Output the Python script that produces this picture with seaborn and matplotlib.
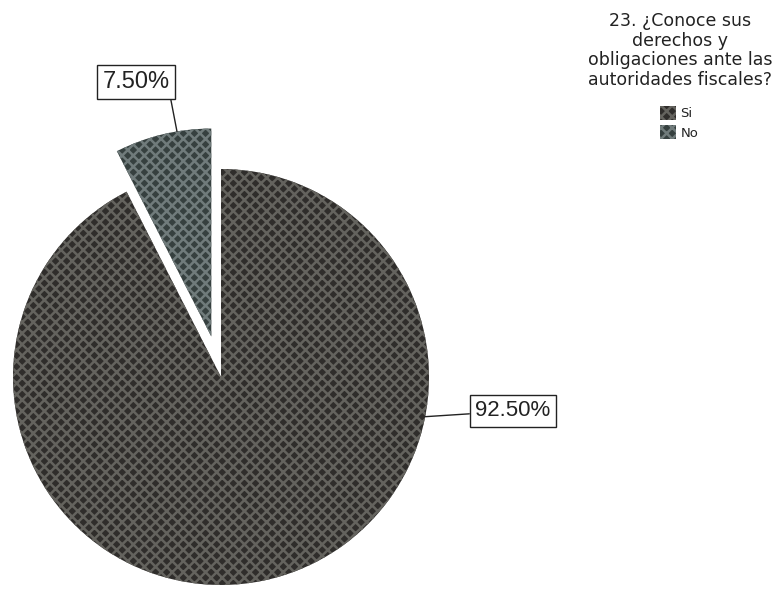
import matplotlib
matplotlib.use("Agg")
import matplotlib.pyplot as plt
import seaborn as sns
import numpy as np

# Survey answers (percent of respondents)
categories = ["Si", "No"]
shares = [92.50, 7.50]
label_texts = ["92.50%", "7.50%"]
legend_title = "23. ¿Conoce sus\nderechos y\nobligaciones ante las\nautoridades fiscales?"

sns.set_style("white")
plt.rcParams["font.family"] = ["DejaVu Sans"]
plt.rcParams["hatch.linewidth"] = 1.8

W, H = 777, 589
fig = plt.figure(figsize=(W / 100, H / 100), dpi=100)
ax = fig.add_axes([0, 0, 1, 1])
ax.axis("off")


def px(x, y):
    """Pixel position (origin top-left) to axes data coordinates."""
    return x, H - y


cx, cy = px(221, 377)
radius = 208
explode_px = 0.2 * radius

face_colors = ["#2f2d2b", "#36403f"]
hatch_colors = ["#64635e", "#707b7b"]

wedges, _ = ax.pie(
    shares,
    startangle=90,
    counterclock=False,
    center=(cx, cy),
    radius=radius,
    explode=[0, explode_px],
    colors=face_colors,
    wedgeprops=dict(linewidth=0),
)
ax.set_xlim(0, W)
ax.set_ylim(0, H)
ax.set_aspect("equal")

for w, hc in zip(wedges, hatch_colors):
    w.set_hatch("xxx")
    w.set_edgecolor(hc)
    w.set_linewidth(0)

box = dict(boxstyle="square,pad=0.25", facecolor="white", edgecolor="#222222", linewidth=1.0)
line = dict(arrowstyle="-", color="#222222", linewidth=1.0, shrinkA=0, shrinkB=0)

# Label for the large slice, leader to the rim on the right
ang = np.deg2rad(-11)
ax.annotate(label_texts[0], xy=(cx + radius * np.cos(ang), cy + radius * np.sin(ang)),
            xytext=px(513, 411), ha="center", va="center", fontsize=16,
            fontfamily="Liberation Sans", color="#222222", bbox=box, arrowprops=line)

# Label for the exploded slice, leader to its outer arc
mid = np.deg2rad(90 + 360 * shares[1] / 200)
ecx, ecy = cx + explode_px * np.cos(mid), cy + explode_px * np.sin(mid)
ang2 = np.deg2rad(99.5)
ax.annotate(label_texts[1], xy=(ecx + radius * np.cos(ang2), ecy + radius * np.sin(ang2)),
            xytext=px(136, 82), ha="center", va="center", fontsize=17,
            fontfamily="Liberation Sans", color="#222222", bbox=box,
            arrowprops=dict(line, relpos=(1.0, 0.0)))

# Legend title drawn as its own centred block, entries underneath
ax.text(*px(680, 12), legend_title, ha="center", va="top", fontsize=12.5,
        linespacing=1.12, color="#222222", multialignment="center")

leg = ax.legend(wedges, categories, loc="upper left",
                bbox_to_anchor=(660 / W, 1 - 106 / H), frameon=False,
                fontsize=9.5, handlelength=1.25, handleheight=1.2,
                handletextpad=0.3, labelspacing=0.4, borderpad=0.0,
                borderaxespad=0.0)
for t in leg.get_texts():
    t.set_color("#222222")

fig.savefig("out.png", dpi=100)
